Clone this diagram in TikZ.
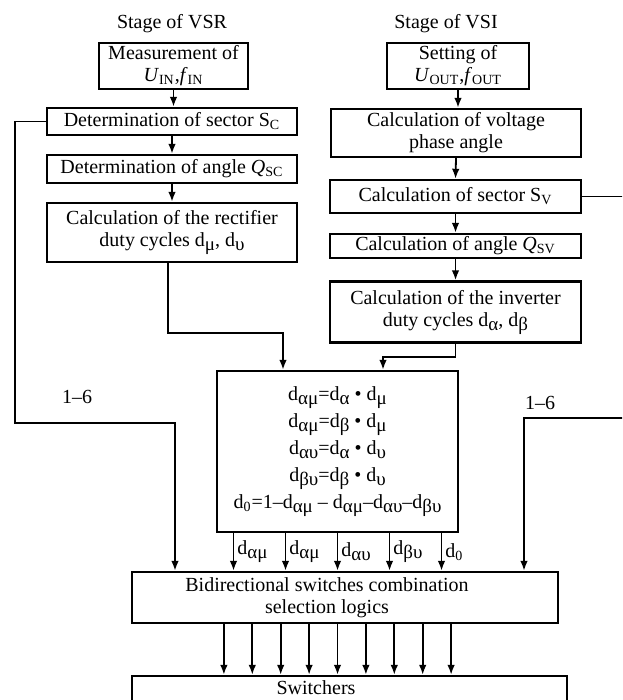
\documentclass[tikz,border=0pt]{standalone}
\usepackage{fontspec}
\setmainfont{Liberation Serif}
\usetikzlibrary{calc,arrows.meta}
\newcommand{\gs}[1]{\raisebox{-2pt}{\fontsize{9.5}{10}\selectfont#1}}
\tikzset{
  blk/.style={draw,line width=1.2pt,inner sep=0pt,align=center},
  conn/.style={line width=0.9pt,->},
}
\begin{document}
\begin{tikzpicture}[x=0.5pt,y=-0.5pt,>={Latex[length=5pt,width=3.8pt]},
  every node/.style={font=\fontsize{10}{11}\selectfont}]
 \useasboundingbox (0,0) rectangle (622,700);
 \clip (0,0) rectangle (622,700);
 % titles
 \node (vsr) at (172,24) {Stage of VSR};
 \node (vsi) at (446,24) {Stage of VSI};
 % rectifier stage
 \node[blk,minimum width=74.5pt,minimum height=23pt] (meas) at (173.5,66)
   {Measurement of\\\textit{U}\textsubscript{IN},\textit{f}\textsubscript{IN}};
 \node[blk,minimum width=125pt,minimum height=13.5pt] (sc) at (172,121.5)
   {Determination of sector S\textsubscript{C}};
 \node[blk,minimum width=125pt,minimum height=14pt] (qsc) at (172,169)
   {Determination of angle \textit{Q}\textsubscript{SC}};
 \node[blk,minimum width=125pt,minimum height=29.5pt] (rect) at (172,232.5)
   {Calculation of the rectifier\\duty cycles d\gs{μ}, d\gs{υ}};
 % inverter stage
 \node[blk,minimum width=71pt,minimum height=23pt] (set) at (458,66)
   {Setting of\\\textit{U}\textsubscript{OUT},\textit{f}\textsubscript{OUT}};
 \node[blk,minimum width=125pt,minimum height=24pt] (volt) at (456,133)
   {Calculation of voltage\\phase angle};
 \node[blk,minimum width=125.5pt,minimum height=16.5pt] (sv) at (455.5,196.5)
   {Calculation of sector S\textsubscript{V}};
 \node[blk,minimum width=125.5pt,minimum height=12pt] (qsv) at (455.5,246)
   {Calculation of angle \textit{Q}\textsubscript{SV}};
 \node[blk,minimum width=125.5pt,minimum height=30.5pt] (inv) at (455.5,312)
   {Calculation of the inverter\\duty cycles d\gs{α}, d\gs{β}};
 % duty cycles of the matrix
 \node[blk,font=\fontsize{10}{13.5}\selectfont,minimum width=120.5pt,minimum height=80.5pt] (form) at (337.5,451.5)
   {d\gs{αμ}=d\gs{α} • d\gs{μ}\\
    d\gs{αμ}=d\gs{β} • d\gs{μ}\\
    d\gs{αυ}=d\gs{α} • d\gs{υ}\\
    d\gs{βυ}=d\gs{β} • d\gs{υ}\\
    d\textsubscript{0}=1–d\gs{αμ} – d\gs{αμ}–d\gs{αυ}–d\gs{βυ}};
 \node[blk,minimum width=213pt,minimum height=25.5pt] (bid) at (345,597.5) {};
 \node[align=center] (bidtxt) at (327,598) {Bidirectional switches combination\\selection logics};
 \node[blk,minimum width=217.5pt,minimum height=27pt] (sw) at (349.5,703) {};
 \node (swtxt) at (316,688) {Switchers};
 \node (nl) at (77,397) {1–6};
 \node (nr) at (540,403) {1–6};
 % connectors
 \draw[conn] (meas.south) -- (meas.south |- sc.north);
 \draw[conn] (sc.south) -- (qsc.north);
 \draw[conn] (qsc.south) -- (rect.north);
 \draw[conn] (set.south) -- (set.south |- volt.north);
 \draw[conn] (volt.south) -- (sv.north);
 \draw[conn] (sv.south) -- (qsv.north);
 \draw[conn] (qsv.south) -- (inv.north);
 \coordinate (rj) at (283,333);
 \draw[conn] ($(rect.south)+(-4,0)$) |- (rj) -- (rj |- form.north);
 \coordinate (ij) at (383,357);
 \draw[conn] (inv.south) |- (ij) -- (ij |- form.north);
 \coordinate (lbend) at (15,423);
 \coordinate (lin) at (175,423);
 \draw[conn] (sc.west) -| (lbend) -- (lin) -- (lin |- bid.north);
 \coordinate (rbend) at (640,418);
 \coordinate (rin) at (524,418);
 \draw[conn] (sv.east) -| (rbend) -- (rin) -- (rin |- bid.north);
 \foreach \k/\lab in {-2/{d\gs{αμ}},-1/{d\gs{αμ}},0/{d\gs{αυ}},1/{d\gs{βυ}},2/{d\textsubscript{0}}}
  \draw[conn] ($(form.south)+(52*\k,0)$) coordinate (dtop) -- (dtop |- bid.north)
    node[midway,right,inner sep=1.5pt] {\lab};
 \foreach \k in {-4,...,4}
  \draw[conn] ($(bid.south -| form.south)+(28.4*\k,0)$) coordinate (sarr) -- (sarr |- sw.north);
\end{tikzpicture}
\end{document}
